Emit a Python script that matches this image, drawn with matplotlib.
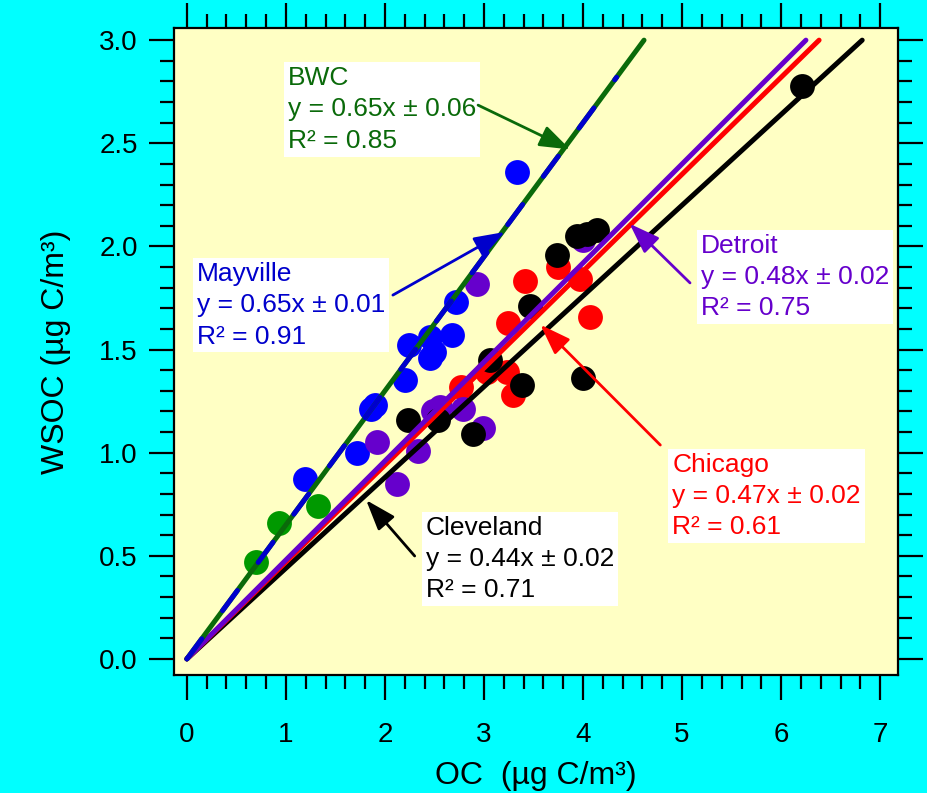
import matplotlib
matplotlib.use("Agg")
import matplotlib.pyplot as plt
import numpy as np
from matplotlib.ticker import MultipleLocator

plt.rcParams["font.family"] = ["Liberation Sans", "DejaVu Sans"]

# OC / WSOC pairs per site (ug C/m3)
bwc_oc = [0.70, 0.93, 1.32]
bwc_wsoc = [0.47, 0.66, 0.74]

mayville_oc = [1.19, 1.72, 1.86, 1.90, 2.20, 2.24, 2.45, 2.45, 2.50, 2.68, 2.72, 3.33]
mayville_wsoc = [0.87, 1.00, 1.21, 1.23, 1.35, 1.52, 1.56, 1.46, 1.49, 1.57, 1.73, 2.36]

chicago_oc = [2.77, 3.03, 3.23, 3.29, 3.24, 3.41, 3.75, 3.97, 4.07]
chicago_wsoc = [1.32, 1.39, 1.39, 1.28, 1.63, 1.83, 1.90, 1.84, 1.66]

detroit_oc = [1.92, 2.12, 2.33, 2.48, 2.56, 2.79, 2.99, 2.93, 4.00]
detroit_wsoc = [1.05, 0.85, 1.01, 1.20, 1.22, 1.21, 1.12, 1.82, 2.03]

cleveland_oc = [2.23, 2.54, 2.89, 3.06, 3.38, 3.46, 3.74, 3.94, 4.04, 4.14, 4.00, 6.21]
cleveland_wsoc = [1.16, 1.16, 1.09, 1.45, 1.33, 1.71, 1.96, 2.05, 2.06, 2.08, 1.36, 2.78]

# fitted slopes, lines run from the origin up to WSOC = 3
slopes = {"BWC": 0.65, "Mayville": 0.65, "Detroit": 0.48, "Chicago": 0.47, "Cleveland": 0.44}
line_top = {"BWC": 3.0, "Mayville": 2.82, "Detroit": 3.0, "Chicago": 3.0, "Cleveland": 3.0}

labels = {
    "BWC": "BWC\ny = 0.65x ± 0.06\nR² = 0.85",
    "Mayville": "Mayville\ny = 0.65x ± 0.01\nR² = 0.91",
    "Detroit": "Detroit\ny = 0.48x ± 0.02\nR² = 0.75",
    "Chicago": "Chicago\ny = 0.47x ± 0.02\nR² = 0.61",
    "Cleveland": "Cleveland\ny = 0.44x ± 0.02\nR² = 0.71",
}

GREEN_PT = "#009900"
GREEN_LN = "#0a6a0a"
BLUE_PT = "#0000ff"
BLUE_LN = "#0000cc"
PURPLE = "#6600cc"
RED = "#ff0000"

fig = plt.figure(figsize=(9.28, 7.93), dpi=100, facecolor="#00ffff")
ax = fig.add_axes([0.1875, 0.1488, 0.7802, 0.8159])
ax.set_facecolor("#ffffc4")

ms = 320
ax.scatter(mayville_oc, mayville_wsoc, s=ms, color=BLUE_PT, lw=0, zorder=2)
ax.scatter(bwc_oc, bwc_wsoc, s=ms, color=GREEN_PT, lw=0, zorder=2)
ax.scatter(chicago_oc, chicago_wsoc, s=ms, color=RED, lw=0, zorder=2)
ax.scatter(detroit_oc, detroit_wsoc, s=ms, color=PURPLE, lw=0, zorder=2)
ax.scatter(cleveland_oc, cleveland_wsoc, s=ms, color="black", lw=0, zorder=2)


def fit_line(name, color, z, **kw):
    m = slopes[name]
    x = np.array([0, line_top[name] / m])
    ax.plot(x, m * x, color=color, lw=3.6, solid_capstyle="round",
            zorder=z, **kw)


fit_line("Cleveland", "black", 3)
fit_line("Chicago", RED, 4)
fit_line("Detroit", PURPLE, 5)
fit_line("BWC", GREEN_LN, 6)
fit_line("Mayville", BLUE_LN, 7, dashes=(5, 7), dash_capstyle="round")

# annotation boxes: (text pos, arrow tail, arrow tip, colour)
notes = [
    ("BWC", (1.02, 2.874), (2.94, 2.685), (3.87, 2.47), GREEN_LN),
    ("Mayville", (0.10, 1.924), (2.08, 1.764), (3.21, 2.07), BLUE_LN),
    ("Detroit", (5.19, 2.06), (5.08, 1.823), (4.47, 2.11), PURPLE),
    ("Chicago", (4.90, 0.999), (4.78, 1.037), (3.57, 1.62), RED),
    ("Cleveland", (2.41, 0.693), (2.30, 0.499), (1.81, 0.77), "black"),
]
for name, txt_xy, tail, tip, color in notes:
    ax.text(*txt_xy, labels[name], color=color, fontsize=19, ha="left",
            va="top", linespacing=1.38, zorder=8,
            bbox=dict(boxstyle="square,pad=0.15", fc="white", ec="none"))
    ax.annotate("", xy=tip, xytext=tail, zorder=9,
                arrowprops=dict(arrowstyle="-|>,head_length=0.85,head_width=0.3",
                                mutation_scale=22, color=color, lw=2,
                                shrinkA=0, shrinkB=0))

ax.set_xlim(-0.13, 7.18)
ax.set_ylim(-0.078, 3.059)
ax.xaxis.set_major_locator(MultipleLocator(1))
ax.xaxis.set_minor_locator(MultipleLocator(0.2))
ax.yaxis.set_major_locator(MultipleLocator(0.5))
ax.yaxis.set_minor_locator(MultipleLocator(0.1))
ax.yaxis.set_major_formatter(plt.FormatStrFormatter("%.1f"))

ax.tick_params(which="both", direction="out", top=True, right=True,
               width=1.6, labelsize=20)
ax.tick_params(axis="x", pad=16)
ax.tick_params(axis="y", pad=8)
ax.tick_params(which="major", length=18)
ax.tick_params(which="minor", length=10)
for sp in ax.spines.values():
    sp.set_linewidth(1.6)

ax.set_xlabel("OC  (µg C/m³)", fontsize=23, labelpad=9)
ax.set_ylabel("WSOC (µg C/m³)", fontsize=23, labelpad=20)

fig.savefig("out.png", dpi=100, facecolor=fig.get_facecolor())
